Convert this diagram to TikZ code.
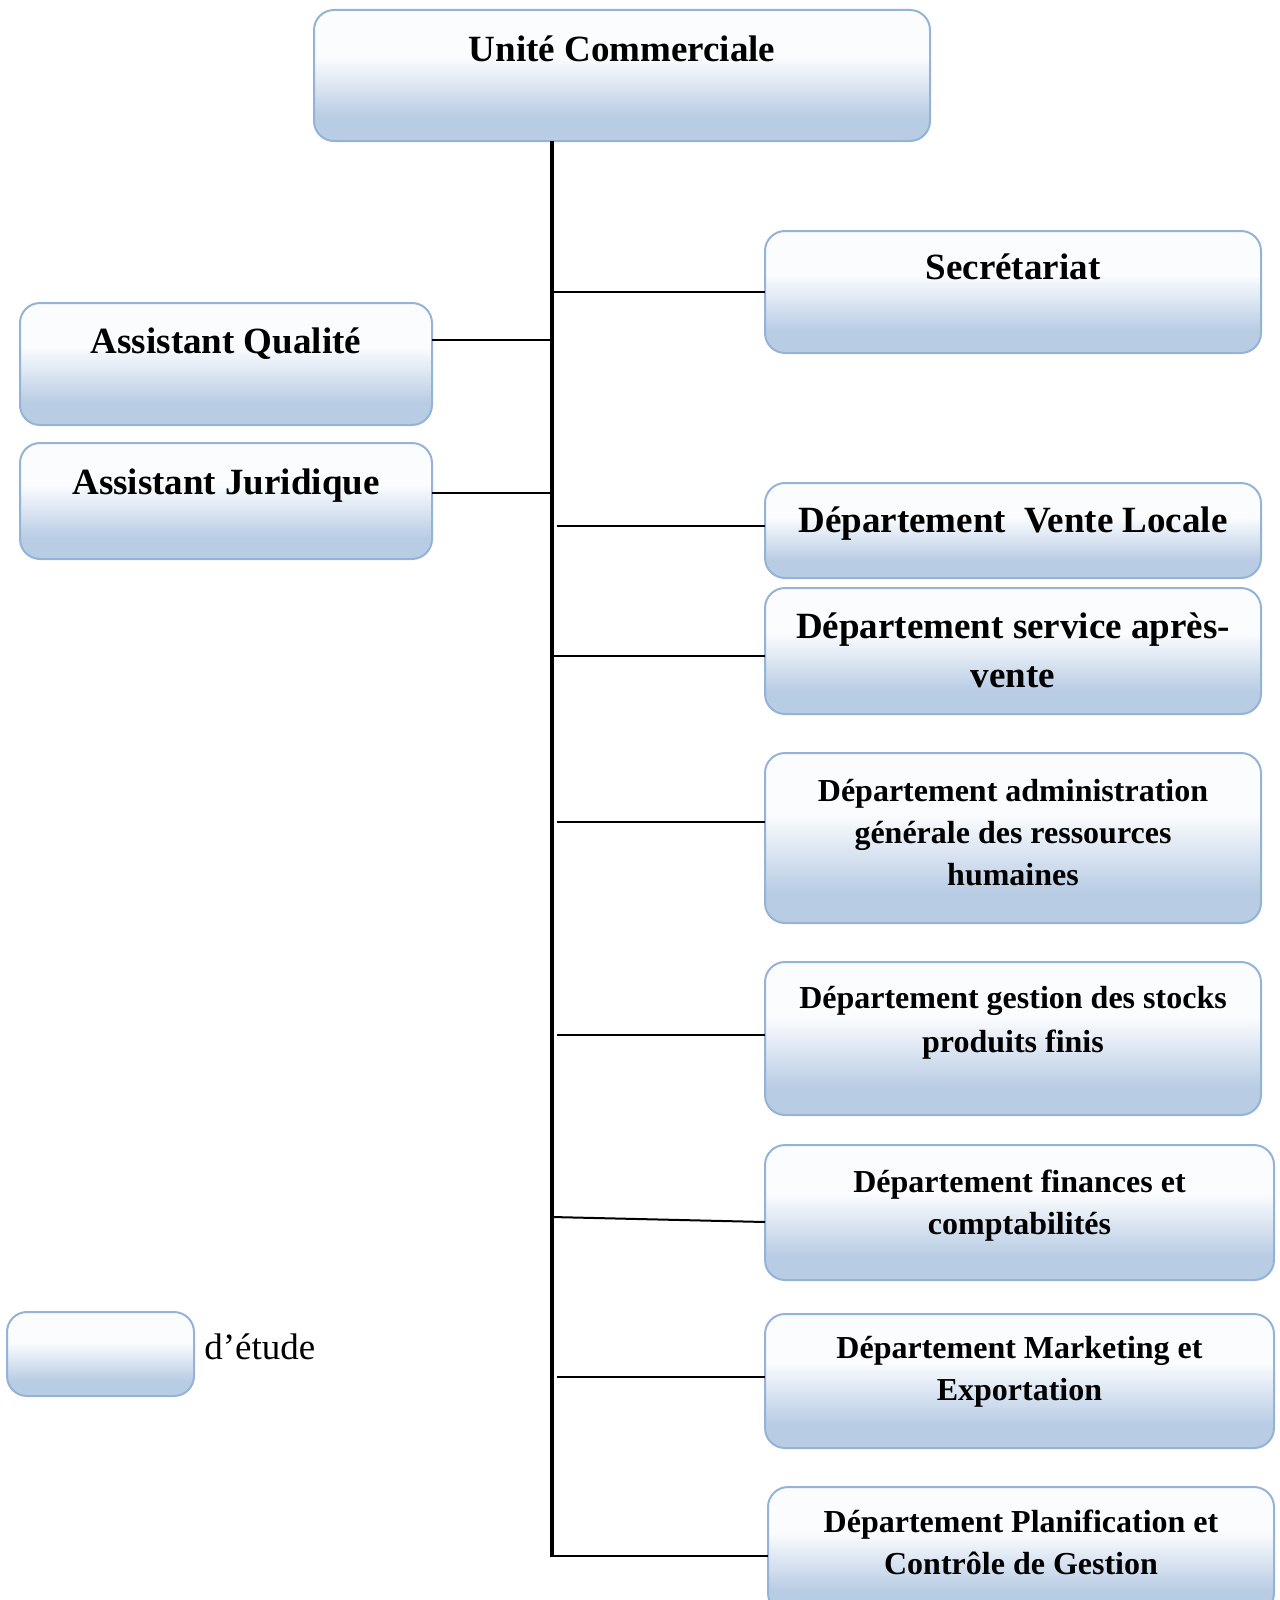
\documentclass[tikz,border=0pt]{standalone}
\usepackage{fontspec}
\setmainfont{Liberation Serif}
\definecolor{boxblue}{HTML}{B8CCE4}
\definecolor{boxwhite}{HTML}{FBFCFE}
\definecolor{boxline}{HTML}{95B3D7}
\pgfdeclareverticalshading{boxshade}{100bp}{color(0bp)=(boxblue); color(25bp)=(boxblue); color(34bp)=(boxblue); color(57bp)=(boxwhite); color(100bp)=(boxwhite)}
\tikzset{
  orgbox/.style={draw=boxline, line width=1pt, rounded corners=10pt, shade, shading=boxshade, inner sep=0pt, outer sep=0pt},
  bigtxt/.style={font=\fontsize{18.5}{24}\selectfont\bfseries, anchor=base, inner sep=0pt},
  smalltxt/.style={font=\fontsize{16}{20}\selectfont\bfseries, anchor=base, inner sep=0pt},
  legtxt/.style={font=\fontsize{18.5}{24}\selectfont, anchor=base west, inner sep=0pt},
  trunkline/.style={line width=2pt, black},
  conn/.style={line width=1pt, black}
}
\begin{document}
\begin{tikzpicture}[x=0.5pt, y=-0.5pt]
\useasboundingbox (0,0) rectangle (1279,1600);

% boxes
\node[orgbox, minimum width=308pt, minimum height=65.5pt] (top) at (622,75.5) {};
\node[orgbox, minimum width=248pt, minimum height=61pt] (sec) at (1013,292) {};
\node[orgbox, minimum width=206pt, minimum height=61pt] (qual) at (226,364) {};
\node[orgbox, minimum width=206pt, minimum height=58pt] (jur) at (226,501) {};
\node[orgbox, minimum width=248pt, minimum height=47.5pt] (vente) at (1013,530.5) {};
\node[orgbox, minimum width=248pt, minimum height=63pt] (sav) at (1013,651) {};
\node[orgbox, minimum width=248pt, minimum height=85pt] (admin) at (1013,838) {};
\node[orgbox, minimum width=248pt, minimum height=76.5pt] (stock) at (1013,1038.5) {};
\node[orgbox, minimum width=254.5pt, minimum height=67.5pt] (fin) at (1019.5,1212.5) {};
\node[orgbox, minimum width=254.5pt, minimum height=67pt] (mkt) at (1019.5,1381) {};
\node[orgbox, minimum width=253pt, minimum height=63pt] (plan) at (1021,1550) {};
\node[orgbox, minimum width=93.5pt, minimum height=42pt] (leg) at (100.5,1354) {};

% texts
\node[bigtxt] (t0) at (622,62) {Unité Commerciale};
\node[bigtxt] (t1) at (1013,279) {Secrétariat};
\node[bigtxt] (t2) at (226,353) {Assistant Qualité};
\node[bigtxt] (t3) at (226,494) {Assistant Juridique};
\node[bigtxt] (t4) at (1013,532) {Département~~Vente Locale};
\node[bigtxt] (t5a) at (1013,638) {Département service après-};
\node[bigtxt] (t5b) at (1013,687) {vente};
\node[smalltxt] (t6a) at (1013,801) {Département administration};
\node[smalltxt] (t6b) at (1013,843) {générale des ressources};
\node[smalltxt] (t6c) at (1013,885) {humaines};
\node[smalltxt] (t7a) at (1013,1008) {Département gestion des stocks};
\node[smalltxt] (t7b) at (1013,1052) {produits finis};
\node[smalltxt] (t8a) at (1019.5,1192) {Département finances et};
\node[smalltxt] (t8b) at (1019.5,1234) {comptabilités};
\node[smalltxt] (t9a) at (1019.5,1358) {Département Marketing et};
\node[smalltxt] (t9b) at (1019.5,1400) {Exportation};
\node[smalltxt] (t10a) at (1021,1532) {Département Planification et};
\node[smalltxt] (t10b) at (1021,1574) {Contrôle de Gestion};
\node[legtxt] (tl) at (204,1359) {d’étude};

% trunk
\coordinate (trunktop) at (552,141);
\coordinate (trunkbot) at (552,1557);
\draw[trunkline] (trunktop) -- (trunkbot);

% junctions
\coordinate (j1) at (552,292);
\coordinate (j2) at (552,340);
\coordinate (j3) at (552,493);
\coordinate (j4) at (557,526);
\coordinate (j5) at (552,656);
\coordinate (j6) at (557,822);
\coordinate (j7) at (557,1035);
\coordinate (j8) at (552,1217);
\coordinate (e8) at (765,1222);
\coordinate (j9) at (557,1377);
\coordinate (j10) at (552,1556);

\draw[conn] (j1) -- (j1 -| sec.west);
\draw[conn] (j2 -| qual.east) -- (j2);
\draw[conn] (j3 -| jur.east) -- (j3);
\draw[conn] (j4) -- (j4 -| vente.west);
\draw[conn] (j5) -- (j5 -| sav.west);
\draw[conn] (j6) -- (j6 -| admin.west);
\draw[conn] (j7) -- (j7 -| stock.west);
\draw[conn] (j8) -- (e8);
\draw[conn] (j9) -- (j9 -| mkt.west);
\draw[conn] (j10) -- (j10 -| plan.west);
\end{tikzpicture}
\end{document}
